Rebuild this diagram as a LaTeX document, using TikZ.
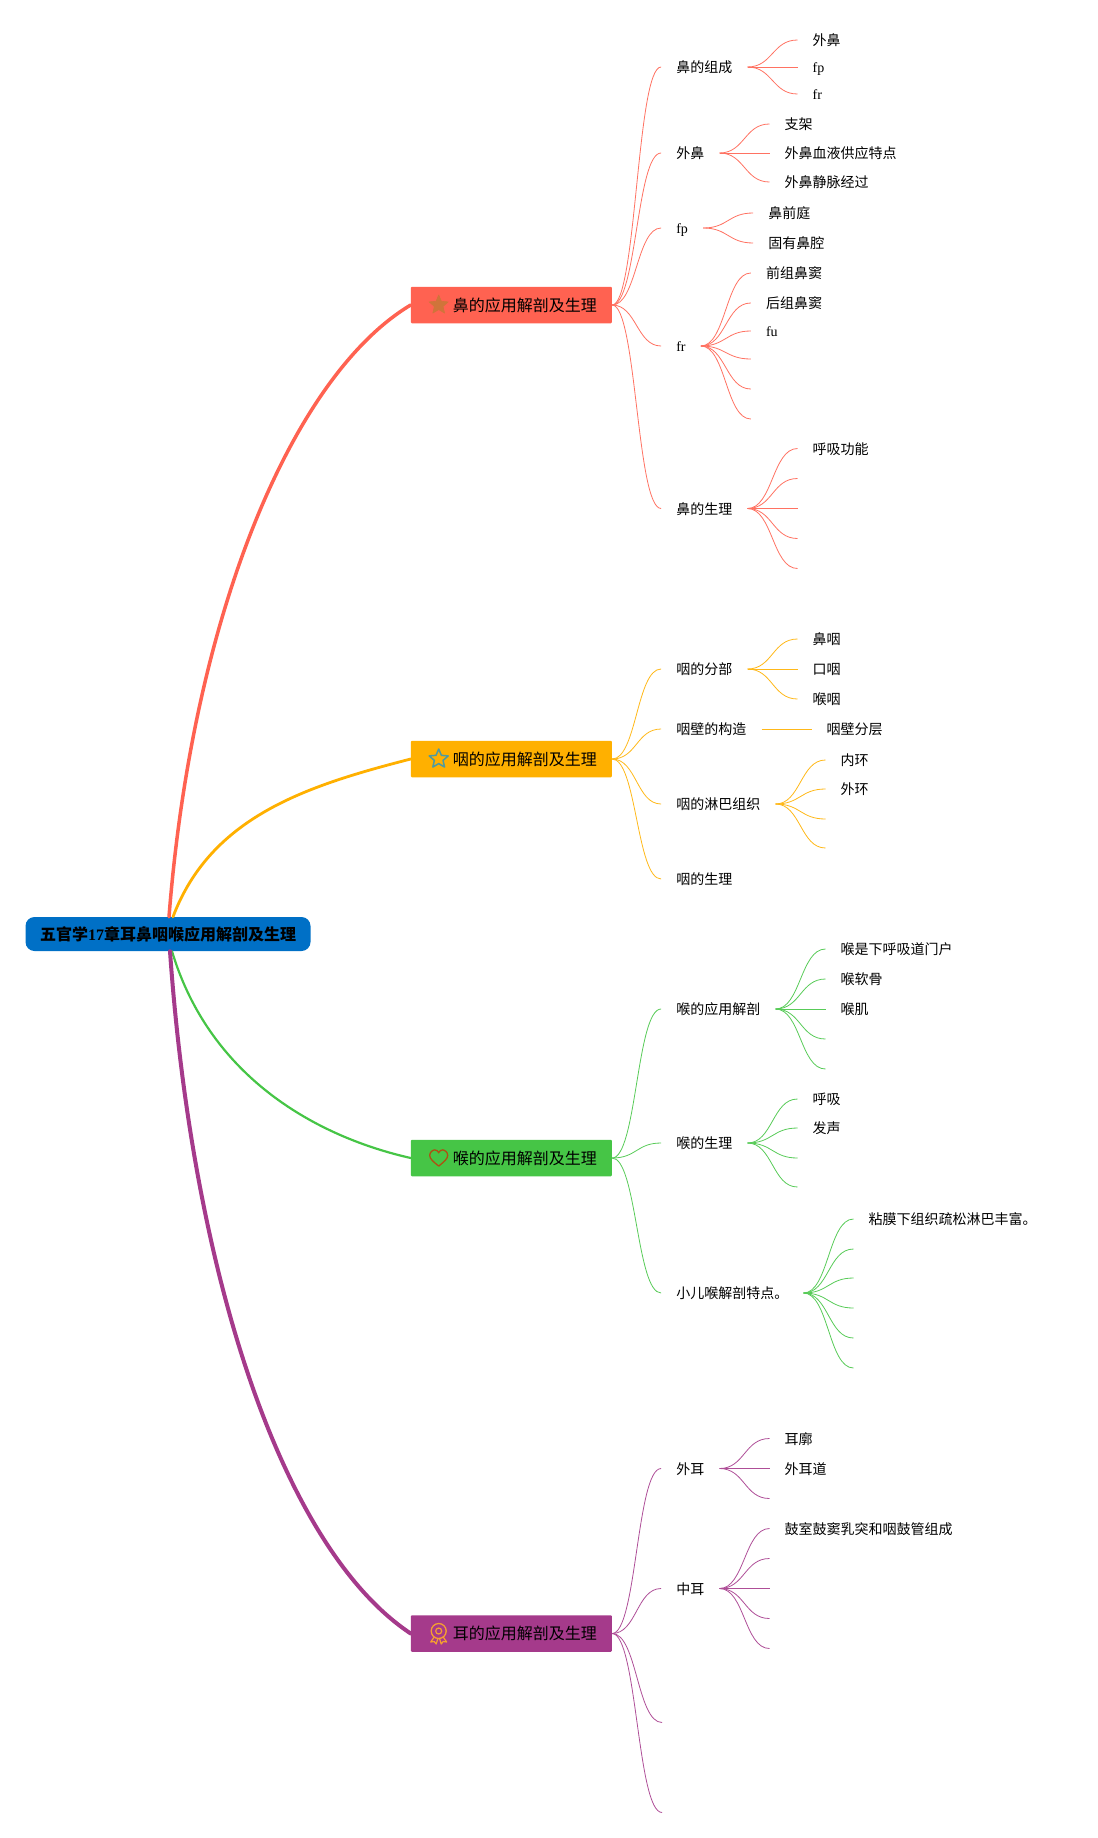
\documentclass[tikz,border=0pt]{standalone}
\usepackage{fontspec}
\setmainfont{Noto Sans CJK SC}
\newfontfamily\latinfont{Liberation Serif}
\usepackage{xcolor}
\usepackage{tikz}
\usetikzlibrary{calc, positioning, shapes.geometric}
\definecolor{noseCol}{HTML}{FF6251}
\definecolor{throatCol}{HTML}{FFB000}
\definecolor{larynxCol}{HTML}{46C546}
\definecolor{earCol}{HTML}{A53A8B}
\definecolor{rootCol}{HTML}{0070C6}
\definecolor{starCol}{HTML}{D0743A}
\definecolor{outlineCol}{HTML}{4E9AA0}
\definecolor{heartCol}{HTML}{AE5012}
\definecolor{badgeCol}{HTML}{F5A030}
\tikzset{
    root/.style={rectangle, rounded corners=9pt, fill=rootCol, minimum width=285pt, minimum height=34pt, inner sep=0pt, font=\bfseries\fontsize{16}{18}\selectfont},
    topic/.style={rectangle, rounded corners=1pt, minimum height=36.5pt, inner xsep=15pt, inner ysep=0pt, text width=171pt, align=right, font=\fontsize{16}{18}\selectfont},
    item/.style={rectangle, inner xsep=15pt, inner ysep=0pt, text height=13.5pt, text depth=2pt, font=\fontsize{14}{16}\selectfont},
    trunk/.style={line cap=round},
    branch/.style={line width=0.8pt, to path={.. controls ($(\tikztostart)!0.5!(\tikztotarget |- \tikztostart)$) and ($(\tikztotarget)!0.5!(\tikztostart |- \tikztotarget)$) .. (\tikztotarget)}},
    staricon/.style={star, star points=5, star point ratio=2.2, minimum size=20pt, inner sep=0pt, line join=round},
    hearticon/.pic={
        \draw[line width=1.3pt, color=#1, scale=0.9] (0,-9) .. controls (-6,-4) and (-10,-1) .. (-10,3) .. controls (-10,7) and (-6,9) .. (-4.5,9) .. controls (-2.5,9) and (-1,8) .. (0,6) .. controls (1,8) and (2.5,9) .. (4.5,9) .. controls (6,9) and (10,7) .. (10,3) .. controls (10,-1) and (6,-4) .. (0,-9);
    },
    badgeicon/.pic={
        \draw[line width=1.3pt, color=#1] (0,2.5) circle (7.5);
        \draw[line width=1.2pt, color=#1] (0,2.5) circle (3);
        \draw[line width=1.2pt, color=#1, line join=round] (-4.5,-3.5) -- (-8,-8.5) -- (-4.5,-8) -- (-2.5,-10.5) -- (-1,-5.5);
        \draw[line width=1.2pt, color=#1, line join=round] (4.5,-3.5) -- (8,-8.5) -- (4.5,-8) -- (2.5,-10.5) -- (1,-5.5);
    }
}
\begin{document}
\begin{tikzpicture}[x=1pt, y=1pt]
    \useasboundingbox (0,0) rectangle (1097,-1838);

    % Root and topics
    \node[root] (Root) at (168,-934) {五官学{\latinfont 17}章耳鼻咽喉应用解剖及生理};
    \node[topic, fill=noseCol, right=100pt of Root.east, yshift=629pt] (Nose) {鼻的应用解剖及生理};
    \node[topic, fill=throatCol, right=100pt of Root.east, yshift=175pt] (Throat) {咽的应用解剖及生理};
    \node[topic, fill=larynxCol, right=100pt of Root.east, yshift=-224pt] (Larynx) {喉的应用解剖及生理};
    \node[topic, fill=earCol, right=100pt of Root.east, yshift=-699.5pt] (Ear) {耳的应用解剖及生理};

    % Icons
    \node[staricon, fill=starCol, draw=starCol, line width=0.6pt] (NoseIcon) at ([xshift=28pt]Nose.west) {};
    \node[staricon, draw=outlineCol, line width=1.5pt] (ThroatIcon) at ([xshift=28pt]Throat.west) {};
    \pic at ([xshift=28pt]Larynx.west) {hearticon={heartCol}};
    \pic at ([xshift=28pt]Ear.west) {badgeicon={badgeCol}};

    % Trunks
    \draw[trunk, noseCol, line width=3.5pt] ([xshift=1pt]Root.north) .. controls +(24,306) and +(-117,-70) .. (Nose.west);
    \draw[trunk, throatCol, line width=2.8pt] ([xshift=5pt]Root.north) .. controls +(38,100) and +(-105,-27) .. (Throat.west);
    \draw[trunk, larynxCol, line width=2.2pt] ([xshift=4pt]Root.south) .. controls +(38,-127) and +(-93,21) .. (Larynx.west);
    \draw[trunk, earCol, line width=4pt] ([xshift=2pt]Root.south) .. controls +(23,-326) and +(-128,85) .. (Ear.west);

    % Nose
    \node[item, right=49pt of Nose.east, yshift=238pt] (NoseParts) {鼻的组成};
    \node[item, right=49pt of Nose.east, yshift=152pt] (NoseOuter) {外鼻};
    \node[item, right=49pt of Nose.east, yshift=77pt] (NoseFp) {\latinfont fp};
    \node[item, right=49pt of Nose.east, yshift=-41pt] (NoseFr) {\latinfont fr};
    \node[item, right=49pt of Nose.east, yshift=-203.5pt] (NoseFunc) {鼻的生理};
    \node[item, right=50pt of NoseParts.east, yshift=27pt] (PartsA) {外鼻};
    \node[item, right=50pt of NoseParts.east] (PartsB) {\latinfont fp};
    \node[item, right=50pt of NoseParts.east, yshift=-27pt] (PartsC) {\latinfont fr};
    \node[item, right=50pt of NoseOuter.east, yshift=29pt] (OuterA) {支架};
    \node[item, right=50pt of NoseOuter.east] (OuterB) {外鼻血液供应特点};
    \node[item, right=50pt of NoseOuter.east, yshift=-29pt] (OuterC) {外鼻静脉经过};
    \node[item, right=50pt of NoseFp.east, yshift=15pt] (FpA) {鼻前庭};
    \node[item, right=50pt of NoseFp.east, yshift=-15pt] (FpB) {固有鼻腔};
    \node[item, right=50pt of NoseFr.east, yshift=73pt] (FrA) {前组鼻窦};
    \node[item, right=50pt of NoseFr.east, yshift=43pt] (FrB) {后组鼻窦};
    \node[item, right=50pt of NoseFr.east, yshift=15pt] (FrC) {\latinfont fu};
    \coordinate[right=50pt of NoseFr.east, yshift=-13pt] (FrD);
    \coordinate[right=50pt of NoseFr.east, yshift=-43pt] (FrE);
    \coordinate[right=50pt of NoseFr.east, yshift=-73pt] (FrF);
    \node[item, right=50pt of NoseFunc.east, yshift=60pt] (FuncA) {呼吸功能};
    \coordinate[right=50pt of NoseFunc.east, yshift=30pt] (FuncB);
    \coordinate[right=50pt of NoseFunc.east] (FuncC);
    \coordinate[right=50pt of NoseFunc.east, yshift=-30pt] (FuncD);
    \coordinate[right=50pt of NoseFunc.east, yshift=-60pt] (FuncE);

    \begin{scope}[noseCol!90]
    \draw[branch] (Nose.east) to (NoseParts.west);
    \draw[branch] (Nose.east) to (NoseOuter.west);
    \draw[branch] (Nose.east) to (NoseFp.west);
    \draw[branch] (Nose.east) to (NoseFr.west);
    \draw[branch] (Nose.east) to (NoseFunc.west);
    \draw[branch] (NoseParts.east) to (PartsA.west);
    \draw[branch] (NoseParts.east) to (PartsB.west);
    \draw[branch] (NoseParts.east) to (PartsC.west);
    \draw[branch] (NoseOuter.east) to (OuterA.west);
    \draw[branch] (NoseOuter.east) to (OuterB.west);
    \draw[branch] (NoseOuter.east) to (OuterC.west);
    \draw[branch] (NoseFp.east) to (FpA.west);
    \draw[branch] (NoseFp.east) to (FpB.west);
    \draw[branch] (NoseFr.east) to (FrA.west);
    \draw[branch] (NoseFr.east) to (FrB.west);
    \draw[branch] (NoseFr.east) to (FrC.west);
    \draw[branch] (NoseFr.east) to (FrD);
    \draw[branch] (NoseFr.east) to (FrE);
    \draw[branch] (NoseFr.east) to (FrF);
    \draw[branch] (NoseFunc.east) to (FuncA.west);
    \draw[branch] (NoseFunc.east) to (FuncB);
    \draw[branch] (NoseFunc.east) to (FuncC);
    \draw[branch] (NoseFunc.east) to (FuncD);
    \draw[branch] (NoseFunc.east) to (FuncE);
    \end{scope}

    % Throat
    \node[item, right=49pt of Throat.east, yshift=90pt] (ThroatParts) {咽的分部};
    \node[item, right=49pt of Throat.east, yshift=30pt] (ThroatWall) {咽壁的构造};
    \node[item, right=49pt of Throat.east, yshift=-45pt] (ThroatLymph) {咽的淋巴组织};
    \node[item, right=49pt of Throat.east, yshift=-120pt] (ThroatFunc) {咽的生理};
    \node[item, right=50pt of ThroatParts.east, yshift=30pt] (TPartsA) {鼻咽};
    \node[item, right=50pt of ThroatParts.east] (TPartsB) {口咽};
    \node[item, right=50pt of ThroatParts.east, yshift=-30pt] (TPartsC) {喉咽};
    \node[item, right=50pt of ThroatWall.east] (WallA) {咽壁分层};
    \node[item, right=50pt of ThroatLymph.east, yshift=44pt] (LymphA) {内环};
    \node[item, right=50pt of ThroatLymph.east, yshift=15pt] (LymphB) {外环};
    \coordinate[right=50pt of ThroatLymph.east, yshift=-15pt] (LymphC);
    \coordinate[right=50pt of ThroatLymph.east, yshift=-44pt] (LymphD);

    \begin{scope}[throatCol!90]
    \draw[branch] (Throat.east) to (ThroatParts.west);
    \draw[branch] (Throat.east) to (ThroatWall.west);
    \draw[branch] (Throat.east) to (ThroatLymph.west);
    \draw[branch] (Throat.east) to (ThroatFunc.west);
    \draw[branch] (ThroatParts.east) to (TPartsA.west);
    \draw[branch] (ThroatParts.east) to (TPartsB.west);
    \draw[branch] (ThroatParts.east) to (TPartsC.west);
    \draw[branch] (ThroatWall.east) to (WallA.west);
    \draw[branch] (ThroatLymph.east) to (LymphA.west);
    \draw[branch] (ThroatLymph.east) to (LymphB.west);
    \draw[branch] (ThroatLymph.east) to (LymphC);
    \draw[branch] (ThroatLymph.east) to (LymphD);
    \end{scope}

    % Larynx
    \node[item, right=49pt of Larynx.east, yshift=149pt] (LarynxAnat) {喉的应用解剖};
    \node[item, right=49pt of Larynx.east, yshift=15pt] (LarynxFunc) {喉的生理};
    \node[item, right=49pt of Larynx.east, yshift=-135pt] (LarynxChild) {小儿喉解剖特点。};
    \node[item, right=50pt of LarynxAnat.east, yshift=60pt] (AnatA) {喉是下呼吸道门户};
    \node[item, right=50pt of LarynxAnat.east, yshift=30pt] (AnatB) {喉软骨};
    \node[item, right=50pt of LarynxAnat.east] (AnatC) {喉肌};
    \coordinate[right=50pt of LarynxAnat.east, yshift=-30pt] (AnatD);
    \coordinate[right=50pt of LarynxAnat.east, yshift=-60pt] (AnatE);
    \node[item, right=50pt of LarynxFunc.east, yshift=44pt] (LFuncA) {呼吸};
    \node[item, right=50pt of LarynxFunc.east, yshift=15pt] (LFuncB) {发声};
    \coordinate[right=50pt of LarynxFunc.east, yshift=-15pt] (LFuncC);
    \coordinate[right=50pt of LarynxFunc.east, yshift=-44pt] (LFuncD);
    \node[item, right=50pt of LarynxChild.east, yshift=74pt] (ChildA) {粘膜下组织疏松淋巴丰富。};
    \coordinate[right=50pt of LarynxChild.east, yshift=44pt] (ChildB);
    \coordinate[right=50pt of LarynxChild.east, yshift=15pt] (ChildC);
    \coordinate[right=50pt of LarynxChild.east, yshift=-15pt] (ChildD);
    \coordinate[right=50pt of LarynxChild.east, yshift=-45pt] (ChildE);
    \coordinate[right=50pt of LarynxChild.east, yshift=-75pt] (ChildF);

    \begin{scope}[larynxCol!90]
    \draw[branch] (Larynx.east) to (LarynxAnat.west);
    \draw[branch] (Larynx.east) to (LarynxFunc.west);
    \draw[branch] (Larynx.east) to (LarynxChild.west);
    \draw[branch] (LarynxAnat.east) to (AnatA.west);
    \draw[branch] (LarynxAnat.east) to (AnatB.west);
    \draw[branch] (LarynxAnat.east) to (AnatC.west);
    \draw[branch] (LarynxAnat.east) to (AnatD);
    \draw[branch] (LarynxAnat.east) to (AnatE);
    \draw[branch] (LarynxFunc.east) to (LFuncA.west);
    \draw[branch] (LarynxFunc.east) to (LFuncB.west);
    \draw[branch] (LarynxFunc.east) to (LFuncC);
    \draw[branch] (LarynxFunc.east) to (LFuncD);
    \draw[branch] (LarynxChild.east) to (ChildA.west);
    \draw[branch] (LarynxChild.east) to (ChildB);
    \draw[branch] (LarynxChild.east) to (ChildC);
    \draw[branch] (LarynxChild.east) to (ChildD);
    \draw[branch] (LarynxChild.east) to (ChildE);
    \draw[branch] (LarynxChild.east) to (ChildF);
    \end{scope}

    % Ear
    \node[item, right=49pt of Ear.east, yshift=165pt] (EarOuter) {外耳};
    \node[item, right=49pt of Ear.east, yshift=45pt] (EarMiddle) {中耳};
    \coordinate[right=50pt of Ear.east, yshift=-89pt] (EarInner);
    \coordinate[right=50pt of Ear.east, yshift=-179pt] (EarFunc);
    \node[item, right=50pt of EarOuter.east, yshift=30pt] (EOuterA) {耳廓};
    \node[item, right=50pt of EarOuter.east] (EOuterB) {外耳道};
    \coordinate[right=50pt of EarOuter.east, yshift=-30pt] (EOuterC);
    \node[item, right=50pt of EarMiddle.east, yshift=60pt] (EMiddleA) {鼓室鼓窦乳突和咽鼓管组成};
    \coordinate[right=50pt of EarMiddle.east, yshift=30pt] (EMiddleB);
    \coordinate[right=50pt of EarMiddle.east] (EMiddleC);
    \coordinate[right=50pt of EarMiddle.east, yshift=-30pt] (EMiddleD);
    \coordinate[right=50pt of EarMiddle.east, yshift=-60pt] (EMiddleE);

    \begin{scope}[earCol!90]
    \draw[branch] (Ear.east) to (EarOuter.west);
    \draw[branch] (Ear.east) to (EarMiddle.west);
    \draw[branch] (Ear.east) to (EarInner);
    \draw[branch] (Ear.east) to (EarFunc);
    \draw[branch] (EarOuter.east) to (EOuterA.west);
    \draw[branch] (EarOuter.east) to (EOuterB.west);
    \draw[branch] (EarOuter.east) to (EOuterC);
    \draw[branch] (EarMiddle.east) to (EMiddleA.west);
    \draw[branch] (EarMiddle.east) to (EMiddleB);
    \draw[branch] (EarMiddle.east) to (EMiddleC);
    \draw[branch] (EarMiddle.east) to (EMiddleD);
    \draw[branch] (EarMiddle.east) to (EMiddleE);
    \end{scope}
\end{tikzpicture}
\end{document}
